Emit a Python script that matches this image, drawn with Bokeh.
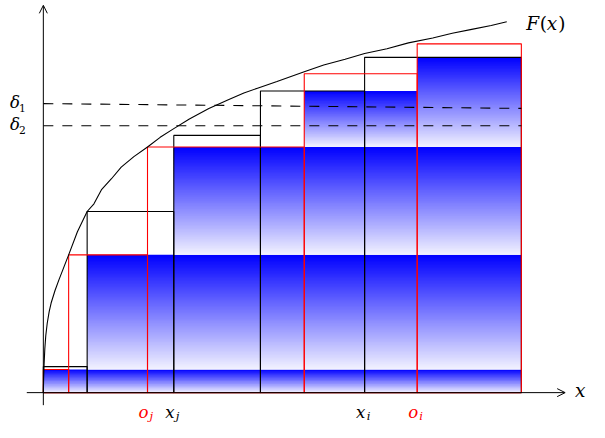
import numpy as np
from bokeh.plotting import figure
from bokeh.models import Arrow, OpenHead, ColumnDataSource
from bokeh.core.properties import value
from bokeh.embed import file_html
from bokeh.resources import INLINE

# ---------------- data ----------------
# F(x) curve samples
curve_x = [0, 0.03, 0.08, 0.15, 0.25, 0.4, 0.6, 0.8, 1.2, 1.6, 2.1, 2.6, 3.5, 4.5,
           5.2, 6.0, 7.0, 8.0, 9.3, 10.7, 12.0, 13.4, 15.0, 17.0, 19.0, 20.6, 22.0,
           24.0, 26.8, 28.8, 31.0, 33.0, 35.3, 37.5, 40.0, 42.0, 44.0, 46.0, 47.6]
curve_y = [0, 1.5, 3.0, 4.5, 5.9, 7.2, 8.4, 9.3, 10.6, 11.7, 13.0, 14.3, 16.7, 18.8,
           19.6, 21.1, 22.2, 23.4, 24.5, 25.5, 26.5, 27.4, 28.4, 29.5, 30.4, 31.1,
           31.6, 32.3, 33.3, 34.0, 34.6, 35.2, 35.7, 36.3, 36.8, 37.3, 37.7, 38.1, 38.5]

# black rectangles (x_i steps)
black_left = [0, 4.5, 13.4, 22.3, 33.0]
black_right = [4.5, 13.4, 22.3, 33.0, 49.1]
black_top = [2.7, 18.8, 26.7, 31.3, 34.8]

# red rectangles (o_j steps)
red_left = [0, 2.6, 10.7, 26.8, 38.4]
red_right = [2.6, 10.7, 26.8, 38.4, 49.1]
red_top = [2.4, 14.3, 25.5, 33.1, 36.2]

# blue shaded bands (left, right, top, bottom)
band_left = [0, 4.5, 13.4, 26.8, 38.4]
band_right = [49.1, 49.1, 49.1, 38.4, 49.1]
band_top = [2.4, 14.3, 25.5, 31.3, 34.8]
band_bottom = [0, 2.4, 14.3, 25.5, 25.5]

# dashed delta levels (start y, end y)
delta_names = ["1", "2"]
delta_y0 = [30.0, 27.7]
delta_y1 = [29.5, 27.7]
delta_x_end = 49.1

# x-axis tick labels
tick_x = [10.7, 13.4, 33.0, 38.4]
tick_main = ["o", "x", "x", "o"]
tick_sub = ["j", "j", "i", "i"]
tick_color = ["red", "black", "black", "red"]

# ---------------- figure ----------------
W, H = 589, 422
s = W / 605.0
p = figure(width=W, height=H, x_range=(-4.4, 56.1), y_range=(-3.1, 40.7),
           output_backend="svg", toolbar_location=None, min_border=0,
           x_axis_type=None, y_axis_type=None)
p.grid.visible = False
p.outline_line_color = None
p.background_fill_color = "white"

def fs(px):
    return "%.1fpx" % (px * s)

SERIF = value("DejaVu Serif")

# gradient bands: blue at top -> white at bottom
gl, gr, gt, gb, gc = [], [], [], [], []
for L, R, T, B in zip(band_left, band_right, band_top, band_bottom):
    n = max(4, int(round((T - B) * 10 / 1.5)))
    edges = np.linspace(T, B, n + 1)
    for k in range(n):
        f = (k + 0.5) / n  # 0 at top, 1 at bottom
        c = int(round(255 * f * 0.95))
        gl.append(L); gr.append(R)
        gt.append(edges[k]); gb.append(max(B, edges[k + 1] - 0.12))
        gc.append("#%02x%02x%02x" % (c, c, 255))
p.quad(left=gl, right=gr, top=gt, bottom=gb, fill_color=gc, line_color=None)

# black rectangles
p.quad(left=black_left, right=black_right, top=black_top, bottom=[0] * 5,
       fill_color=None, line_color="black", line_width=1.1)
# red rectangles
p.quad(left=red_left, right=red_right, top=red_top, bottom=[0] * 5,
       fill_color=None, line_color="red", line_width=1.1)

# dashed levels
for name, y0, y1 in zip(delta_names, delta_y0, delta_y1):
    p.line([0, delta_x_end], [y0, y1], line_color="black", line_width=1.1,
           line_dash="10 9")
    p.text(x=[0], y=[y0], text=["δ"], text_font=SERIF,
           text_font_style="italic", text_font_size=fs(17), text_align="right",
           text_baseline="middle", x_offset=-24 * s, y_offset=-1, text_color="black")
    p.text(x=[0], y=[y0], text=[name], text_font=SERIF,
           text_font_size=fs(11), text_align="right",
           text_baseline="middle", x_offset=-18 * s, y_offset=4, text_color="black")

# curve
p.line(curve_x, curve_y, line_color="black", line_width=1.1)
# F(x) label: italic letters, upright parentheses
fx_parts = ["F", "(", "x", ")"]
fx_style = ["italic", "normal", "italic", "normal"]
fx_off = [20, 34, 41, 53]
for t, st, off in zip(fx_parts, fx_style, fx_off):
    p.text(x=[curve_x[-1]], y=[curve_y[-1]], text=[t], text_font=SERIF,
           text_font_style=st, text_font_size=fs(19), text_align="left",
           text_baseline="middle", x_offset=off * s, y_offset=2, text_color="black")

# axes
p.add_layout(Arrow(x_start=-1.7, y_start=0, x_end=53.6, y_end=0,
                   line_color="black", line_width=1,
                   end=OpenHead(size=8, line_width=1, line_color="black")))
p.add_layout(Arrow(x_start=0, y_start=-1.3, x_end=0, y_end=40.2,
                   line_color="black", line_width=1,
                   end=OpenHead(size=8, line_width=1, line_color="black")))
p.text(x=[53.6], y=[0], text=["x"], text_font=SERIF,
       text_font_style="italic", text_font_size=fs(19), text_align="left",
       text_baseline="middle", x_offset=10 * s, y_offset=-2, text_color="black")

# tick labels
src = ColumnDataSource(dict(x=tick_x, y=[0] * 4, m=tick_main, s=tick_sub, c=tick_color))
p.text(x="x", y="y", text="m", text_color="c", source=src,
       text_font=SERIF, text_font_style="italic",
       text_font_size=fs(17), text_align="center", text_baseline="alphabetic",
       x_offset=-4 * s, y_offset=20 * s)
p.text(x="x", y="y", text="s", text_color="c", source=src,
       text_font=SERIF, text_font_style="italic",
       text_font_size=fs(12), text_align="center", text_baseline="alphabetic",
       x_offset=4 * s, y_offset=24 * s)

open("out.html", "w").write(file_html(p, INLINE))
